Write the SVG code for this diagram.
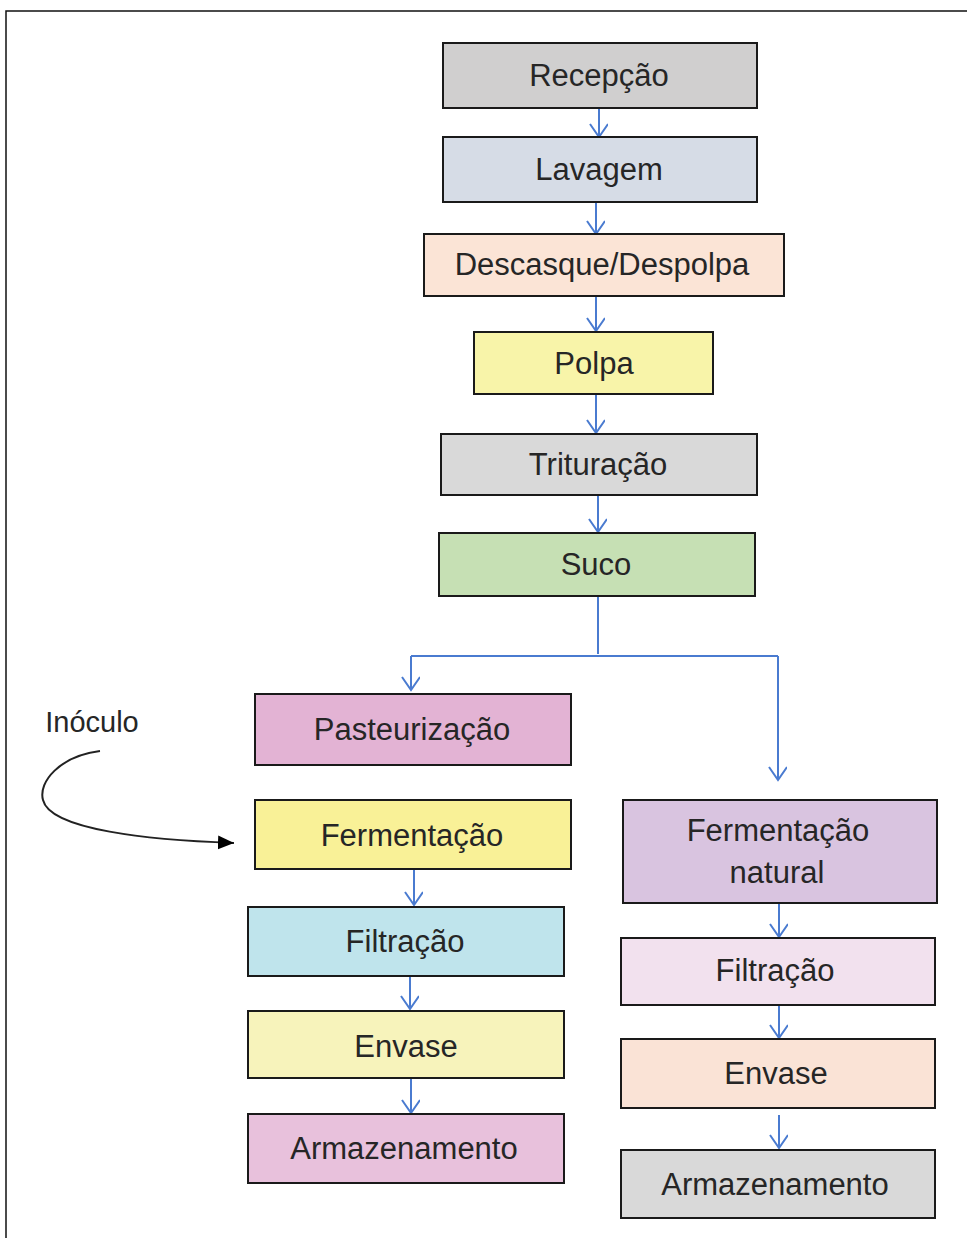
<svg xmlns="http://www.w3.org/2000/svg" width="967" height="1238" viewBox="0 0 967 1238">
  <style>
    .box { stroke: #1a1a1a; stroke-width: 2; }
    .lbl { font-family: "Liberation Sans", Arial, sans-serif; font-size: 31px; fill: #262626; text-anchor: middle; }
    .flow { fill: none; stroke: #4a7bd0; stroke-width: 2; }
    .frame { fill: none; stroke: #111; stroke-width: 1.5; }
  </style>
  <defs>
    <marker id="vhead" markerUnits="userSpaceOnUse" markerWidth="20" markerHeight="22" refX="14" refY="9" orient="auto" viewBox="0 0 20 22">
      <path d="M1,0 L14,9 L1,18" fill="none" stroke="#4a7bd0" stroke-width="2"/>
    </marker>
    <marker id="solidhead" markerUnits="userSpaceOnUse" markerWidth="20" markerHeight="16" refX="16" refY="7" orient="auto" viewBox="0 0 20 16">
      <path d="M0,0 L16,7 L0,14 Z" fill="#000"/>
    </marker>
  </defs>

  <rect width="967" height="1238" fill="#fff"/>
  <path class="frame" d="M6,1238 V11 H967"/>

  <!-- connectors -->
  <g id="connectors">
    <line class="flow" x1="599" y1="108" x2="599" y2="137" marker-end="url(#vhead)"/>
    <line class="flow" x1="596" y1="202" x2="596" y2="234" marker-end="url(#vhead)"/>
    <line class="flow" x1="596" y1="296" x2="596" y2="331" marker-end="url(#vhead)"/>
    <line class="flow" x1="596" y1="394" x2="596" y2="433" marker-end="url(#vhead)"/>
    <line class="flow" x1="598" y1="495" x2="598" y2="532" marker-end="url(#vhead)"/>
    <path class="flow" d="M598,596 V654"/>
    <path class="flow" d="M411,656 H778"/>
    <line class="flow" x1="411" y1="656" x2="411" y2="690" marker-end="url(#vhead)"/>
    <line class="flow" x1="778" y1="656" x2="778" y2="780" marker-end="url(#vhead)"/>
    <line class="flow" x1="414" y1="869" x2="414" y2="905" marker-end="url(#vhead)"/>
    <line class="flow" x1="410" y1="976" x2="410" y2="1009" marker-end="url(#vhead)"/>
    <line class="flow" x1="411" y1="1078" x2="411" y2="1113" marker-end="url(#vhead)"/>
    <line class="flow" x1="779" y1="903" x2="779" y2="937" marker-end="url(#vhead)"/>
    <line class="flow" x1="779" y1="1005" x2="779" y2="1038" marker-end="url(#vhead)"/>
    <line class="flow" x1="779" y1="1115" x2="779" y2="1148" marker-end="url(#vhead)"/>
    <path d="M100,751 C60,756 38,782 43,800 C50,830 150,840 234,843" fill="none" stroke="#222" stroke-width="2" marker-end="url(#solidhead)"/>
  </g>

  <g id="recepcao"><rect class="box" x="443" y="43" width="314" height="65" fill="#d0cfcf"/><text class="lbl" x="599" y="86">Recepção</text></g>
  <g id="lavagem"><rect class="box" x="443" y="137" width="314" height="65" fill="#d6dce6"/><text class="lbl" x="599" y="180">Lavagem</text></g>
  <g id="descasque"><rect class="box" x="424" y="234" width="360" height="62" fill="#fbe4d6"/><text class="lbl" x="602" y="275">Descasque/Despolpa</text></g>
  <g id="polpa"><rect class="box" x="474" y="332" width="239" height="62" fill="#f8f4a9"/><text class="lbl" x="594" y="374">Polpa</text></g>
  <g id="trituracao"><rect class="box" x="441" y="434" width="316" height="61" fill="#d9d9d9"/><text class="lbl" x="598" y="475">Trituração</text></g>
  <g id="suco"><rect class="box" x="439" y="533" width="316" height="63" fill="#c6e0b4"/><text class="lbl" x="596" y="575">Suco</text></g>
  <g id="pasteurizacao"><rect class="box" x="255" y="694" width="316" height="71" fill="#e3b3d4"/><text class="lbl" x="412" y="740">Pasteurização</text></g>
  <g id="inoculo"><text class="lbl" x="92" y="732" style="font-size:29px">Inóculo</text></g>
  <g id="fermentacao"><rect class="box" x="255" y="800" width="316" height="69" fill="#f9f197"/><text class="lbl" x="412" y="846">Fermentação</text></g>
  <g id="filtracao-a"><rect class="box" x="248" y="907" width="316" height="69" fill="#bfe4ec"/><text class="lbl" x="405" y="952">Filtração</text></g>
  <g id="envase-a"><rect class="box" x="248" y="1011" width="316" height="67" fill="#f7f3bb"/><text class="lbl" x="406" y="1057">Envase</text></g>
  <g id="armazenamento-a"><rect class="box" x="248" y="1114" width="316" height="69" fill="#e8c1dc"/><text class="lbl" x="404" y="1159">Armazenamento</text></g>
  <g id="fermentacao-natural"><rect class="box" x="623" y="800" width="314" height="103" fill="#d9c4e0"/><text class="lbl" x="778" y="841">Fermentação</text><text class="lbl" x="777" y="883">natural</text></g>
  <g id="filtracao-b"><rect class="box" x="621" y="938" width="314" height="67" fill="#f2e1ee"/><text class="lbl" x="775" y="981">Filtração</text></g>
  <g id="envase-b"><rect class="box" x="621" y="1039" width="314" height="69" fill="#fae3d6"/><text class="lbl" x="776" y="1084">Envase</text></g>
  <g id="armazenamento-b"><rect class="box" x="621" y="1150" width="314" height="68" fill="#d9d9d9"/><text class="lbl" x="775" y="1195">Armazenamento</text></g>
</svg>
